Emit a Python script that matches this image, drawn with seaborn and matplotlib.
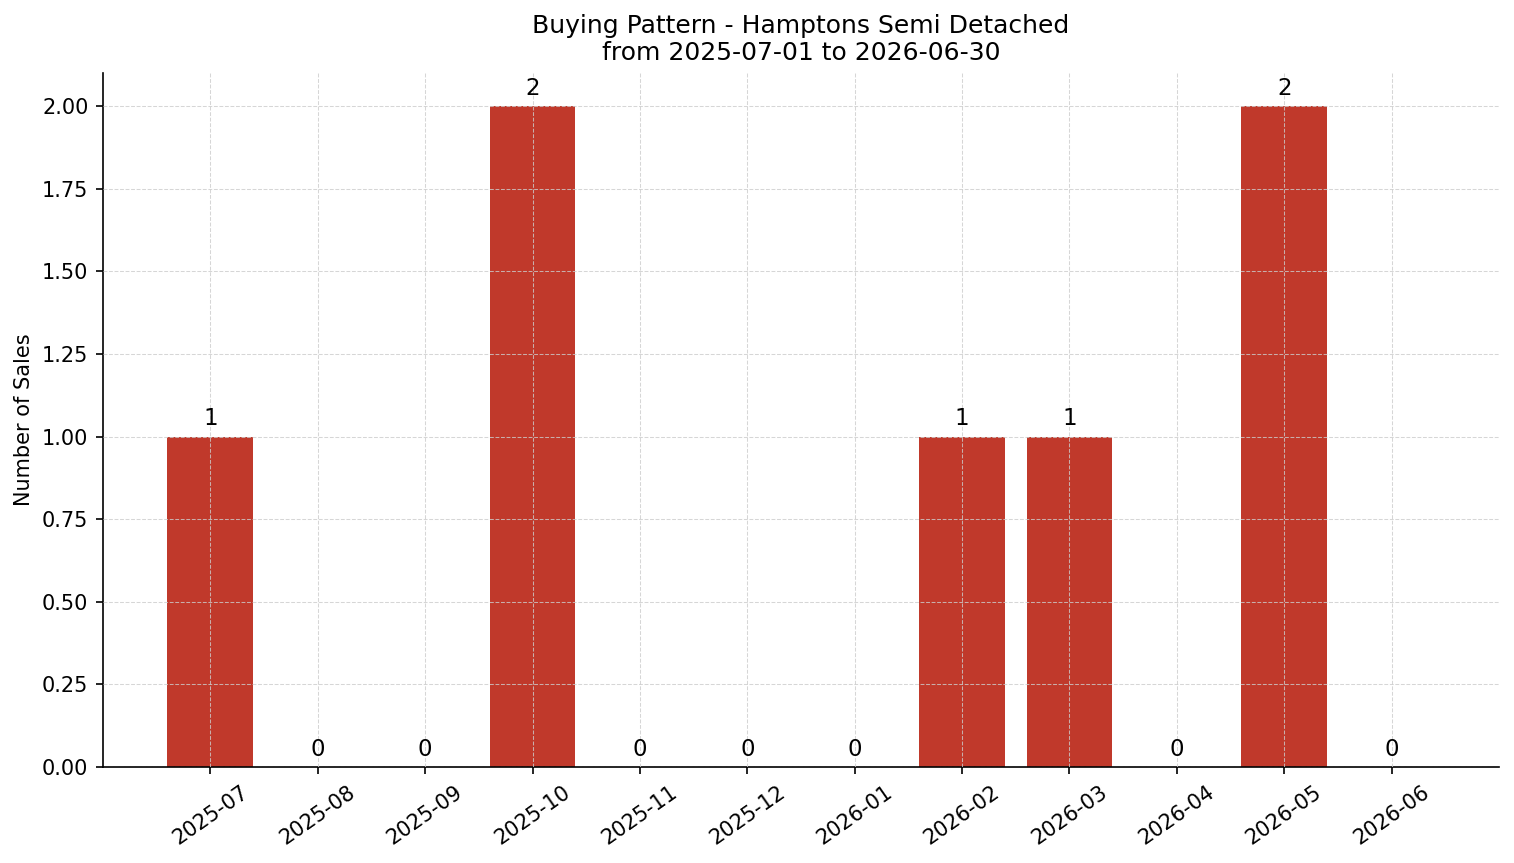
import matplotlib
matplotlib.use("Agg")
import matplotlib.pyplot as plt
import seaborn as sns
import pandas as pd

months = ["2025-07", "2025-08", "2025-09", "2025-10", "2025-11", "2025-12",
          "2026-01", "2026-02", "2026-03", "2026-04", "2026-05", "2026-06"]
sales = [1, 0, 0, 2, 0, 0, 0, 1, 1, 0, 2, 0]

sns.set_theme(style="ticks")
plt.rcParams['font.family'] = ['DejaVu Sans']
plt.rcParams['text.color'] = 'black'
plt.rcParams['axes.labelcolor'] = 'black'

df = pd.DataFrame({"month": months, "sales": sales})

DPI = 150
fig = plt.figure(figsize=(1514/DPI, 863/DPI), dpi=DPI)
ax = fig.add_axes([103/1514, 1-767/863, (1499-103)/1514, (767-73)/863])
sns.barplot(data=df, x="month", y="sales", color="#c0392b", saturation=1,
            width=0.8, ax=ax, linewidth=0)
ax.set_axisbelow(False)
ax.grid(True, linestyle="--", color="#cccccc", linewidth=0.5, alpha=0.8)
ax.set_xlim(-1, 12)
ax.set_ylim(0, 2.1)
ax.set_yticks([0, 0.25, 0.5, 0.75, 1.0, 1.25, 1.5, 1.75, 2.0])
ax.yaxis.set_major_formatter(matplotlib.ticker.FormatStrFormatter('%.2f'))
ax.set_xlabel("")
ax.set_ylabel("Number of Sales", fontsize=10, color="black")
ax.tick_params(axis="both", labelsize=10, length=3.5, width=0.8, colors="black")
plt.setp(ax.get_xticklabels(), rotation=35, ha="center")
for c in ax.containers:
    ax.bar_label(c, labels=[str(v) for v in sales], padding=3, fontsize=11, color="black")
ax.set_title("Buying Pattern - Hamptons Semi Detached\nfrom 2025-07-01 to 2026-06-30",
             fontsize=12, pad=6, color="black")
sns.despine(ax=ax)
for s in ["left", "bottom"]:
    ax.spines[s].set_color("black")
    ax.spines[s].set_linewidth(0.8)
fig.savefig("out.png", dpi=DPI)
